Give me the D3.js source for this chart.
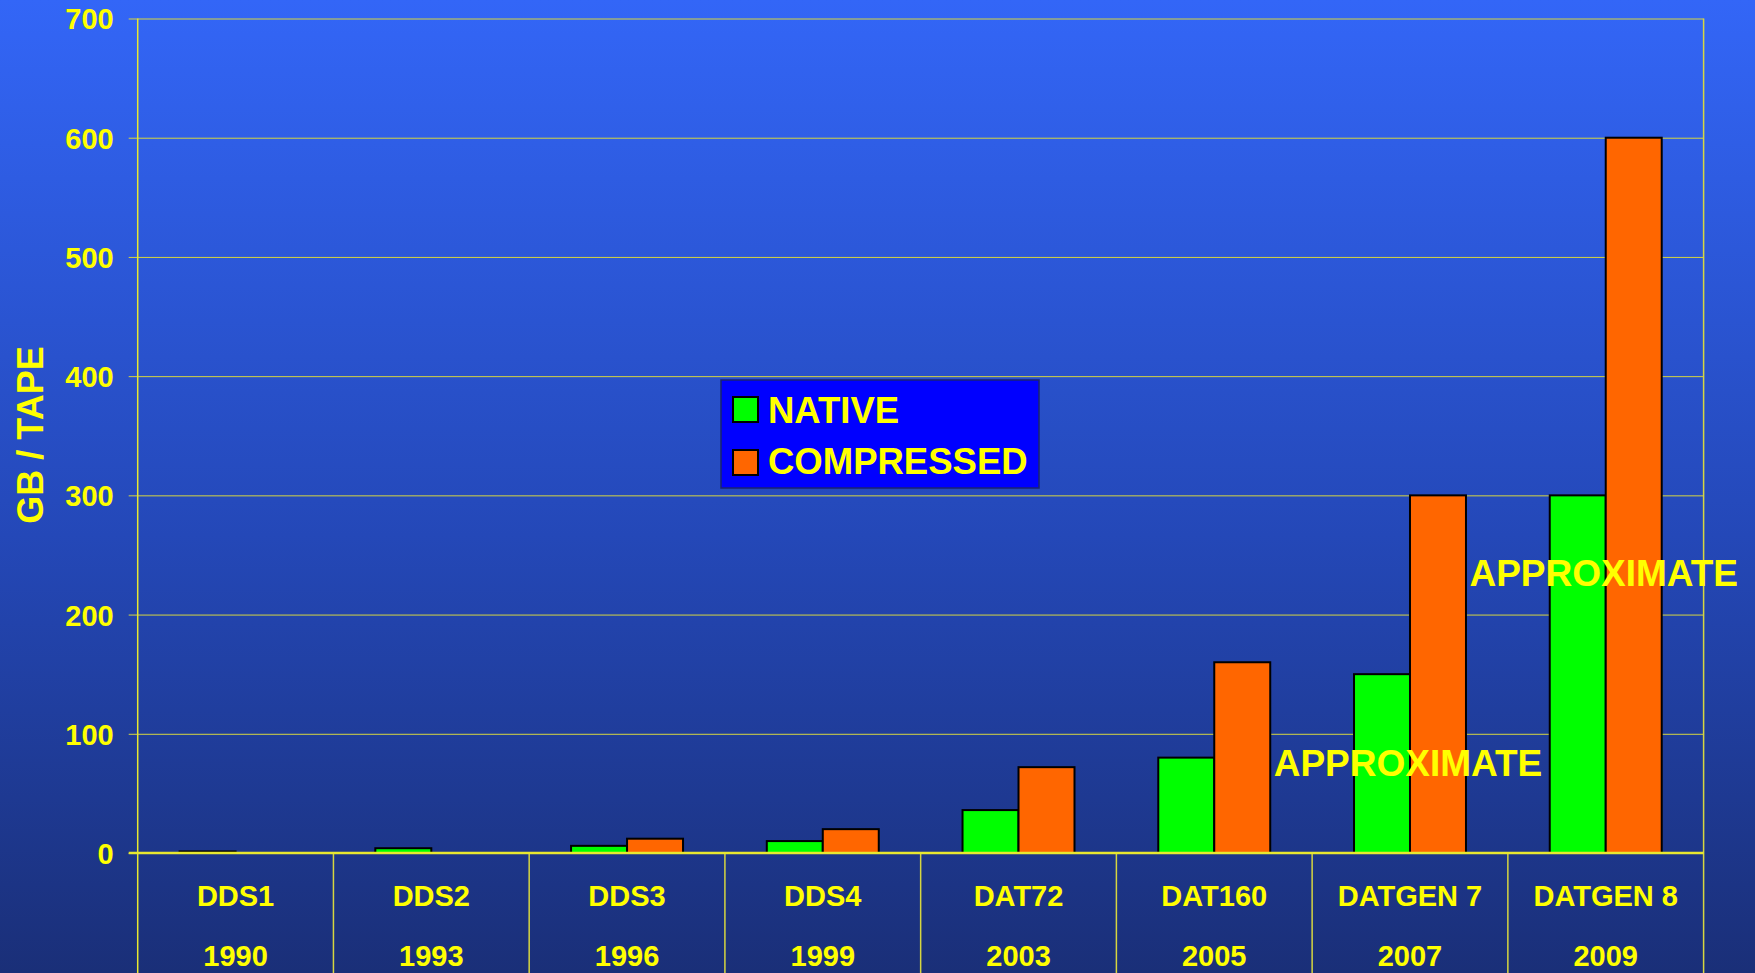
<!DOCTYPE html>
<html lang="en">
<head>
  <meta charset="UTF-8" />
  <title>GB / TAPE</title>
  <style>
    body {
      margin: 0;
      overflow: hidden;
      background: #1b317a;
    }
    svg text {
      font-family: "Liberation Sans", Arial, sans-serif;
      font-weight: bold;
      fill: #ffff00;
    }
    .grid line {
      stroke: #d6d640;
      stroke-width: 1px;
    }
    .bar {
      stroke: #000000;
      stroke-width: 2px;
    }
  </style>
  <script src="https://d3js.org/d3.v7.min.js"></script>
</head>
<body>
  <svg id="chart" width="1755" height="973"></svg>

  <script>
    // data
    const categories = ["DDS1", "DDS2", "DDS3", "DDS4", "DAT72", "DAT160", "DATGEN 7", "DATGEN 8"];
    const years = ["1990", "1993", "1996", "1999", "2003", "2005", "2007", "2009"];
    const nativeValues = [1.3, 4, 6, 10, 36, 80, 150, 300];
    const compressedValues = [null, null, 12, 20, 72, 160, 300, 600];
    const seriesNames = ["NATIVE", "COMPRESSED"];
    const seriesColors = ["#00ff00", "#ff6600"];
    const yTicks = [0, 100, 200, 300, 400, 500, 600, 700];
    const notes = [
      { text: "APPROXIMATE", cat: "DATGEN 7", value: 65 },
      { text: "APPROXIMATE", cat: "DATGEN 8", value: 224 }
    ];

    const W = 1755, H = 973;
    const plotLeft = 137.7, plotRight = 1703.6, plotTop = 18.5, zeroY = 853;
    const svg = d3.select("#chart");

    // background gradient
    const grad = svg.append("defs").append("linearGradient")
      .attr("id", "bg")
      .attr("x1", 0).attr("y1", 0).attr("x2", 0).attr("y2", 1);
    grad.append("stop").attr("offset", "0%").attr("stop-color", "#3366f7");
    grad.append("stop").attr("offset", "55%").attr("stop-color", "#2448b8");
    grad.append("stop").attr("offset", "100%").attr("stop-color", "#1a2f78");
    svg.append("rect").attr("width", W).attr("height", H).attr("fill", "url(#bg)");

    const x = d3.scaleBand().domain(categories).range([plotLeft, plotRight]).padding(0);
    const y = d3.scaleLinear().domain([0, 700]).range([zeroY, plotTop]);
    const barW = x.bandwidth() * 0.286;

    // gridlines
    svg.append("g")
      .attr("class", "grid")
      .attr("transform", `translate(${plotLeft},0)`)
      .call(d3.axisLeft(y).tickValues(yTicks).tickSize(-(plotRight - plotLeft)).tickFormat(""))
      .call(g => g.select(".domain").remove());

    // y axis with outside ticks and labels
    const yAxis = svg.append("g")
      .attr("transform", `translate(${plotLeft},0)`)
      .call(d3.axisLeft(y).tickValues(yTicks).tickSize(9).tickPadding(15));
    yAxis.select(".domain").remove();
    yAxis.selectAll(".tick line").attr("stroke", "#d6d640");
    yAxis.selectAll("text")
      .style("font-size", "29px")
      .attr("dy", "0.36em");

    // left and right frame lines, running down past the zero line
    svg.append("line")
      .attr("x1", plotLeft).attr("x2", plotLeft).attr("y1", plotTop).attr("y2", H)
      .attr("stroke", "#e8e830").attr("stroke-width", 1.5);
    svg.append("line")
      .attr("x1", plotRight).attr("x2", plotRight).attr("y1", plotTop).attr("y2", H)
      .attr("stroke", "#d6d640").attr("stroke-width", 1.5);

    // category dividers below the zero line
    svg.append("g").selectAll("line")
      .data(categories.slice(1))
      .join("line")
      .attr("x1", d => x(d)).attr("x2", d => x(d))
      .attr("y1", zeroY).attr("y2", H)
      .attr("stroke", "#d6d640").attr("stroke-width", 1.5);

    // bars
    const bars = svg.append("g");
    [nativeValues, compressedValues].forEach((vals, s) => {
      bars.selectAll(".s" + s)
        .data(categories.map((c, i) => ({ c, v: vals[i] })).filter(d => d.v != null))
        .join("rect")
        .attr("class", "bar s" + s)
        .attr("x", d => x(d.c) + x.bandwidth() / 2 - barW + s * barW)
        .attr("y", d => y(d.v))
        .attr("width", barW)
        .attr("height", d => y(0) - y(d.v))
        .attr("fill", seriesColors[s]);
    });

    // zero line
    svg.append("line")
      .attr("x1", plotLeft - 9).attr("x2", plotRight)
      .attr("y1", y(0)).attr("y2", y(0))
      .attr("stroke", "#e8e830").attr("stroke-width", 2.5);

    // category labels
    const catG = svg.append("g").attr("text-anchor", "middle").style("font-size", "29px");
    catG.selectAll(".name")
      .data(categories)
      .join("text")
      .attr("class", "name")
      .attr("x", d => x(d) + x.bandwidth() / 2)
      .attr("y", 906)
      .text(d => d);
    catG.selectAll(".year")
      .data(years)
      .join("text")
      .attr("class", "year")
      .attr("x", (d, i) => x(categories[i]) + x.bandwidth() / 2)
      .attr("y", 966)
      .text(d => d);

    // y title
    svg.append("text")
      .attr("transform", "translate(43,435) rotate(-90)")
      .attr("text-anchor", "middle")
      .style("font-size", "36px")
      .text("GB / TAPE");

    // notes
    svg.append("g").selectAll("text")
      .data(notes)
      .join("text")
      .attr("x", d => x(d.cat) + x.bandwidth() / 2 - 2)
      .attr("y", d => y(d.value))
      .attr("text-anchor", "middle")
      .style("font-size", "37px")
      .text(d => d.text);

    // legend
    const lg = svg.append("g").attr("transform", "translate(721,380)");
    lg.append("rect")
      .attr("width", 318).attr("height", 108)
      .attr("fill", "#0000ff")
      .attr("stroke", "#1a2370").attr("stroke-width", 1.5);
    seriesNames.forEach((name, i) => {
      lg.append("rect")
        .attr("x", 12).attr("y", 17 + i * 53)
        .attr("width", 25).attr("height", 25)
        .attr("fill", seriesColors[i])
        .attr("stroke", "#000").attr("stroke-width", 2);
      lg.append("text")
        .attr("x", 47).attr("y", 43 + i * 51)
        .style("font-size", "36.5px")
        .text(name);
    });
  </script>
</body>
</html>
